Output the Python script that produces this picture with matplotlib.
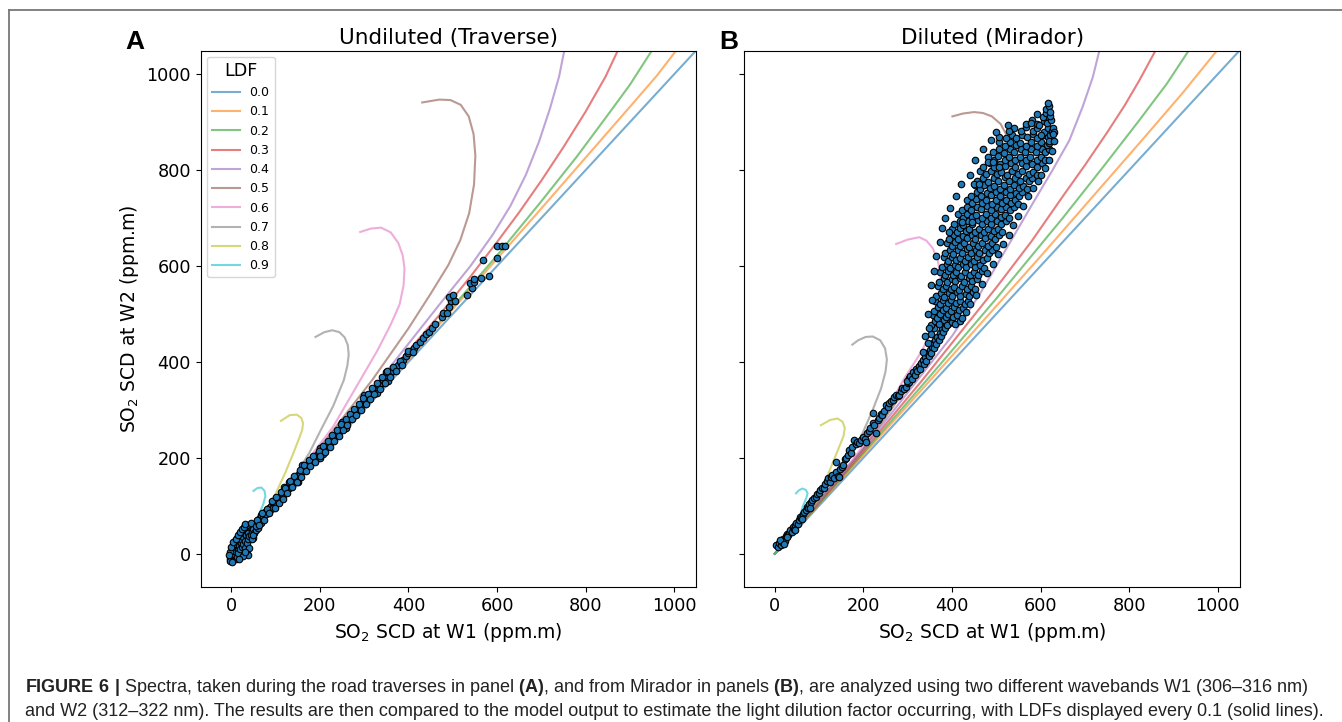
import matplotlib.pyplot as plt
from matplotlib.lines import Line2D

# LDF model curves, (W1, W2) pairs, one list per LDF
ldf_labels = ['0.0', '0.1', '0.2', '0.3', '0.4', '0.5', '0.6', '0.7', '0.8', '0.9']

a_curves = [
    [(0, 0), (1060, 1060)],
    [(0, 0), (400, 405), (700, 720), (800, 826), (900, 932), (960, 996), (1005, 1050), (1012, 1060)],
    [(0, 0), (300, 306), (500, 515), (600, 622), (700, 735), (780, 828), (850, 915), (900, 978),
     (950, 1050), (957, 1060)],
    [(0, 0), (200, 210), (350, 370), (472, 500), (540, 578), (600, 650), (650, 712), (700, 778),
     (750, 848), (800, 922), (845, 995), (873, 1050), (878, 1060)],
    [(0, 0), (200, 213), (335, 362), (472, 522), (540, 600), (590, 665), (630, 725), (665, 790),
     (695, 860), (720, 930), (740, 995), (752, 1050), (754, 1060)],
    [(0, 0), (200, 222), (318, 362), (400, 470), (450, 542), (490, 602), (517, 654), (537, 710),
     (548, 770), (551, 830), (547, 875), (536, 912), (518, 936), (495, 946), (470, 947), (450, 944), (431, 941)],
    [(0, 0), (150, 168), (230, 265), (291, 362), (330, 424), (360, 478), (380, 520), (389, 560),
     (391, 595), (387, 622), (377, 648), (360, 670), (338, 680), (315, 678), (291, 671)],
    [(0, 0), (70, 76), (120, 135), (150, 172), (176, 210), (201, 256), (230, 308), (254, 362),
     (262, 392), (265, 415), (263, 435), (256, 451), (244, 462), (228, 466), (210, 462), (190, 452)],
    [(0, 0), (50, 55), (80, 92), (100, 125), (120, 165), (138, 205), (152, 238), (160, 258),
     (162, 272), (158, 283), (148, 290), (132, 289), (112, 277)],
    [(0, 0), (30, 33), (50, 58), (63, 83), (72, 103), (77, 120), (75, 131), (68, 138), (59, 137), (50, 131)],
]

b_curves = [
    [(0, 0), (1060, 1060)],
    [(0, 0), (351, 362), (600, 620), (823, 856), (920, 960), (999, 1050), (1007, 1060)],
    [(0, 0), (200, 210), (343, 362), (500, 532), (650, 700), (740, 805), (823, 904), (885, 980),
     (935, 1050), (942, 1060)],
    [(0, 0), (200, 214), (333, 362), (500, 555), (580, 652), (650, 745), (700, 810), (750, 878),
     (790, 935), (823, 987), (860, 1050), (865, 1060)],
    [(0, 0), (200, 218), (322, 362), (401, 455), (462, 540), (522, 635), (582, 730), (627, 800),
     (665, 862), (695, 932), (718, 994), (733, 1050), (735, 1060)],
    [(0, 0), (200, 220), (310, 362), (400, 490), (460, 600), (500, 690), (522, 760), (533, 821),
     (530, 850), (522, 875), (510, 896), (490, 912), (470, 919), (450, 921), (425, 918), (401, 912)],
    [(0, 0), (150, 165), (230, 262), (290, 362), (330, 420), (352, 460), (367, 500), (374, 540),
     (374, 580), (368, 612), (356, 638), (342, 653), (326, 660), (300, 655), (274, 646)],
    [(0, 0), (100, 108), (150, 170), (198, 251), (221, 300), (240, 345), (250, 380), (253, 405),
     (249, 428), (238, 445), (221, 453), (205, 452), (188, 445), (175, 436)],
    [(0, 0), (60, 65), (100, 118), (123, 172), (145, 222), (155, 245), (158, 262), (153, 275),
     (142, 282), (125, 279), (104, 268)],
    [(0, 0), (30, 33), (50, 60), (63, 98), (71, 116), (74, 126), (70, 133), (62, 136), (54, 132), (48, 126)],
]

# measured SO2 SCDs (W1, W2), panel A: road traverses
a_points = [
    (-2, -12), (0, -8), (2, -14), (4, -10), (1, -3), (3, 2), (5, -5), (6, 4), (8, -2), (2, 8),
    (4, 12), (7, 10), (9, 6), (10, -12), (12, -6), (11, 14), (13, 18), (6, 20), (8, 26), (14, 8),
    (16, 2), (15, 24), (18, 16), (20, 10), (19, 30), (22, 22), (24, 14), (12, 32), (17, 36), (21, 40),
    (25, 28), (27, 20), (26, 34), (29, 44), (31, 26), (33, 38), (30, 12), (35, 22), (34, 50), (37, 30),
    (38, 44), (40, 36), (42, 56), (44, 40), (36, 60), (46, 48), (48, 32), (50, 52), (52, 44), (54, 62),
    (35, 0), (40, 12), (38, -2), (-4, 4), (-3, -16), (1, -18),
    (-5, -2), (0, 14), (3, 24), (10, 30), (14, 40), (20, 46), (24, 52), (28, 56), (32, 62), (44, 64),
    (46, 30), (50, 40), (55, 50), (60, 54), (26, -4), (18, -10), (30, 4),
    (56, 58), (60, 66), (63, 72), (66, 64), (68, 80), (72, 76), (75, 86), (78, 82), (82, 90), (85, 96),
    (88, 92), (90, 100), (94, 106), (97, 102), (100, 108), (104, 112), (107, 118), (110, 114), (114, 124),
    (117, 122), (120, 130), (124, 134), (127, 138), (130, 136), (133, 146), (136, 142), (140, 154),
    (143, 150), (146, 160), (150, 158), (153, 166), (156, 164), (160, 172), (163, 178), (166, 176),
    (170, 182), (173, 186), (176, 184), (180, 192), (183, 196), (186, 194), (190, 202), (193, 206),
    (196, 200), (200, 210), (203, 212), (206, 208), (210, 218), (213, 222), (216, 226), (220, 228),
    (223, 234), (226, 232), (230, 240), (233, 244), (237, 248), (240, 250), (243, 256), (247, 258),
    (250, 262), (254, 266), (258, 270), (262, 276), (266, 280), (270, 286), (275, 290), (280, 294),
    (285, 300), (290, 306), (295, 312), (300, 318), (305, 322), (310, 328), (315, 334), (320, 340),
    (326, 344), (332, 352), (337, 356), (343, 362), (348, 366), (353, 360), (358, 376), (364, 380),
    (370, 388), (376, 394), (382, 398), (388, 404), (394, 412), (400, 418), (406, 422), (412, 430),
    (418, 436), (425, 442), (432, 450), (440, 458), (446, 462), (452, 470), (460, 478),
    (118, 140), (130, 150), (160, 185), (200, 220), (250, 275), (300, 330), (350, 378),
    (95, 96), (150, 150), (200, 200), (260, 262), (330, 336),
    (58, 70), (62, 60), (70, 84), (74, 70), (80, 94), (84, 84), (92, 110), (98, 96), (102, 118),
    (108, 106), (112, 128), (116, 114), (122, 138), (126, 126), (132, 152), (138, 140), (142, 162),
    (148, 150), (155, 175), (158, 160), (165, 186), (168, 172), (175, 196), (178, 182), (185, 204),
    (190, 192), (197, 214), (200, 204), (208, 224), (212, 212), (218, 236), (222, 222), (228, 248),
    (232, 236), (238, 258), (242, 246), (248, 270), (252, 258), (258, 280), (262, 268), (268, 292),
    (272, 280), (278, 302), (282, 290), (288, 312), (292, 300), (298, 324), (303, 312), (308, 334),
    (313, 322), (318, 346), (323, 334), (330, 356), (335, 344), (340, 368), (346, 356), (352, 380),
    (358, 368), (366, 390), (372, 380), (380, 402), (386, 394), (398, 422), (410, 420),
    (476, 493), (478, 502), (487, 502), (491, 515), (496, 527), (504, 527), (491, 536), (501, 539),
    (532, 539), (544, 555), (540, 564), (547, 566), (547, 572), (564, 576), (581, 580), (568, 612),
    (600, 616), (600, 641), (611, 641), (617, 641),
]

# panel B: Mirador
b_points = [
    (3, 18), (8, 14), (10, 22), (14, 19), (17, 24), (19, 30), (22, 27), (25, 36), (27, 42), (30, 38),
    (33, 44), (35, 49), (38, 46), (40, 56), (43, 52), (46, 60), (48, 64), (52, 62), (55, 70), (57, 77),
    (60, 74), (63, 82), (66, 86), (70, 92), (72, 97), (75, 95), (78, 104), (82, 108), (85, 112), (88, 116),
    (92, 118), (96, 124), (100, 127), (103, 133), (107, 138), (110, 136), (114, 146), (118, 152),
    (121, 158), (124, 149), (127, 161), (130, 165), (134, 158), (138, 171), (142, 163), (145, 160),
    (148, 176), (152, 181), (155, 186), (12, 28), (20, 20), (28, 34), (45, 50), (62, 72), (80, 96),
    (138, 192), (158, 197), (161, 199), (165, 205), (168, 216), (172, 210), (175, 222), (179, 237),
    (183, 228), (186, 232), (190, 230), (194, 238), (198, 244), (203, 240), (206, 233), (209, 251),
    (212, 256), (216, 262), (221, 272), (221, 293), (225, 268), (229, 251), (232, 278), (236, 284),
    (240, 292), (243, 289), (247, 298), (251, 310), (255, 306), (258, 314), (262, 318), (266, 320),
    (270, 326), (273, 332), (277, 328), (281, 331), (285, 340), (288, 346), (292, 344), (296, 348),
    (300, 355), (304, 358), (302, 366), (298, 361),
    (306, 370), (310, 364), (312, 378), (316, 372), (318, 385), (322, 380), (325, 392), (328, 386),
    (330, 398), (334, 404), (336, 395), (339, 410), (342, 402), (344, 418), (347, 412), (350, 425),
    (352, 418), (355, 432), (357, 440), (360, 428), (362, 446), (365, 438), (367, 452), (370, 446),
    (372, 460), (375, 455), (377, 468), (380, 462), (382, 476), (385, 470), (387, 484), (390, 478),
    (392, 492), (395, 486), (398, 500), (400, 494), (335, 420), (345, 440), (352, 458), (360, 470),
    (353, 476), (361, 485), (370, 479), (381, 487), (388, 476), (399, 484), (406, 479), (417, 486),
    (356, 498), (367, 491), (374, 499), (386, 494), (392, 500), (403, 493), (412, 498), (422, 491),
    (359, 507), (368, 515), (379, 509), (387, 513), (398, 506), (405, 514), (416, 508), (424, 513), (432, 505),
    (362, 528), (373, 521), (380, 529), (391, 522), (398, 530), (410, 523), (417, 528), (429, 520), (436, 527),
    (365, 537), (376, 544), (383, 536), (394, 543), (401, 538), (412, 545), (419, 537), (431, 542),
    (439, 538), (447, 545),
    (368, 558), (379, 551), (386, 559), (397, 552), (404, 557), (415, 550), (423, 558), (435, 551),
    (442, 558), (452, 552),
    (371, 567), (382, 574), (389, 566), (400, 573), (407, 568), (418, 575), (426, 567), (438, 574),
    (446, 568), (456, 573),
    (374, 588), (385, 581), (392, 589), (403, 582), (410, 587), (421, 580), (429, 588), (441, 581),
    (449, 588), (459, 582), (467, 589),
    (377, 597), (388, 604), (395, 596), (406, 603), (413, 598), (424, 605), (432, 597), (444, 604),
    (452, 598), (464, 603), (472, 596),
    (381, 618), (392, 611), (399, 619), (410, 612), (417, 617), (429, 610), (437, 618), (449, 611),
    (457, 618), (469, 612), (479, 617),
    (384, 627), (395, 634), (403, 626), (414, 633), (422, 628), (434, 635), (442, 627), (454, 634),
    (462, 628), (475, 633), (484, 627), (491, 634),
    (388, 648), (399, 641), (407, 649), (419, 642), (427, 647), (439, 640), (447, 648), (459, 641),
    (468, 648), (481, 642), (490, 647), (499, 640),
    (393, 657), (405, 664), (413, 656), (425, 663), (433, 658), (445, 665), (453, 657), (466, 664),
    (475, 658), (488, 663), (497, 657), (507, 664),
    (399, 678), (411, 671), (419, 679), (431, 672), (439, 677), (451, 670), (460, 678), (473, 671),
    (482, 678), (495, 672), (504, 677), (514, 670),
    (405, 687), (417, 694), (425, 686), (437, 693), (445, 688), (458, 695), (467, 687), (480, 694),
    (489, 688), (502, 693), (511, 687), (521, 694),
    (413, 708), (425, 701), (433, 709), (445, 702), (454, 707), (467, 700), (476, 708), (489, 701),
    (498, 708), (511, 702), (520, 707), (529, 700),
    (423, 717), (435, 724), (444, 716), (457, 723), (466, 718), (479, 725), (488, 717), (501, 724),
    (510, 718), (523, 723), (531, 717), (539, 724),
    (433, 738), (446, 731), (455, 739), (468, 732), (477, 737), (490, 730), (499, 738), (512, 731),
    (521, 738), (534, 732), (542, 737), (549, 730),
    (443, 747), (456, 754), (465, 746), (478, 753), (487, 748), (500, 755), (509, 747), (522, 754),
    (531, 748), (544, 753), (552, 747), (559, 754),
    (451, 768), (464, 761), (473, 769), (486, 762), (495, 767), (508, 760), (517, 768), (530, 761),
    (539, 768), (552, 762), (560, 767), (569, 760),
    (457, 777), (471, 784), (481, 776), (495, 783), (505, 778), (519, 785), (529, 777), (543, 784),
    (553, 778), (567, 783), (575, 777), (581, 784),
    (463, 798), (477, 791), (487, 799), (501, 792), (511, 797), (525, 790), (535, 798), (549, 791),
    (559, 798), (573, 792), (583, 797), (593, 790),
    (471, 807), (485, 814), (495, 806), (509, 813), (519, 808), (533, 815), (543, 807), (557, 814),
    (567, 808), (581, 813), (591, 807), (603, 814),
    (481, 828), (495, 821), (505, 829), (519, 822), (529, 827), (543, 820), (553, 828), (567, 821),
    (577, 828), (591, 822), (600, 827), (611, 820),
    (493, 837), (507, 844), (517, 836), (531, 843), (541, 838), (555, 845), (565, 837), (579, 844),
    (589, 838), (603, 843), (611, 837), (618, 844),
    (506, 858), (520, 851), (530, 859), (544, 852), (554, 857), (568, 850), (578, 858), (592, 851),
    (602, 858), (614, 852), (620, 857),
    (521, 867), (535, 874), (545, 866), (559, 873), (569, 868), (583, 875), (593, 867), (607, 874),
    (617, 868), (622, 873),
    (541, 888), (556, 881), (567, 889), (582, 882), (593, 887), (608, 880), (617, 888), (625, 882),
    (566, 897), (581, 904), (592, 896), (607, 903), (615, 898), (623, 904),
    (591, 918), (605, 911), (613, 919), (621, 912),
    (612, 928), (620, 934), (616, 939), (621, 922), (627, 887), (631, 880),
    (394, 671), (423, 692), (446, 692), (450, 772), (461, 772), (481, 817), (492, 817), (507, 807),
    (507, 869), (529, 882), (526, 894), (578, 898), (597, 894), (602, 874), (618, 861),
    (340, 455), (348, 470), (345, 500), (355, 530), (352, 560), (360, 590), (365, 620), (372, 650),
    (378, 680), (385, 700), (395, 720), (410, 745), (420, 770), (440, 790), (452, 820), (470, 845),
    (488, 862), (500, 880),
    (440, 520), (455, 540), (468, 562), (480, 585), (492, 605), (503, 625), (515, 645), (528, 665),
    (538, 685), (550, 705), (560, 725), (572, 745), (583, 762), (595, 778), (602, 790), (610, 805),
    (618, 822), (625, 840), (630, 860), (628, 875),
]

panel_titles = ['Undiluted (Traverse)', 'Diluted (Mirador)']
panel_letters = ['A', 'B']
ticks = [0, 200, 400, 600, 800, 1000]

caption_1 = (r'$\bf{FIGURE\ 6\ |}$ Spectra, taken during the road traverses in panel $\bf{(A)}$, '
             r'and from Mirador in panels $\bf{(B)}$, are analyzed using two different wavebands W1 (306–316 nm)')
caption_2 = ('and W2 (312–322 nm). The results are then compared to the model output to estimate '
             'the light dilution factor occurring, with LDFs displayed every 0.1 (solid lines).')


def main():
    plt.rcParams['mathtext.fontset'] = 'custom'
    plt.rcParams['mathtext.rm'] = 'DejaVu Sans'
    plt.rcParams['mathtext.it'] = 'DejaVu Sans:italic'
    plt.rcParams['mathtext.bf'] = 'Liberation Sans:bold'

    fig = plt.figure(figsize=(13.42, 7.22), dpi=100)
    ax_a = fig.add_axes([0.1496, 0.1866, 0.3693, 0.7432])
    ax_b = fig.add_axes([0.5546, 0.1866, 0.3693, 0.7432], sharey=ax_a)
    colors = plt.get_cmap('tab10').colors

    for ax, curves, pts, title in zip([ax_a, ax_b], [a_curves, b_curves], [a_points, b_points], panel_titles):
        for i, curve in enumerate(curves):
            ax.plot([p[0] for p in curve], [p[1] for p in curve], color=colors[i], alpha=0.6,
                    lw=1.5, label=ldf_labels[i])
        ax.scatter([p[0] for p in pts], [p[1] for p in pts], s=22, c='#1f77b4', edgecolors='k',
                   linewidths=0.8, zorder=3)
        ax.set_xlim(-69, 1050)
        ax.set_ylim(-70, 1049)
        ax.set_xticks(ticks)
        ax.set_yticks(ticks)
        ax.tick_params(labelsize=12.7)
        ax.set_title(title, fontsize=15.5, pad=5)
        ax.set_xlabel('SO$_2$ SCD at W1 (ppm.m)', fontsize=13.5)

    ax_a.set_ylabel('SO$_2$ SCD at W2 (ppm.m)', fontsize=13.5)
    ax_b.tick_params(labelleft=False)
    ax_a.legend(title='LDF', loc='upper left', fontsize=9, title_fontsize=12.6, handlelength=2.2,
                labelspacing=0.5)

    for letter, px in zip(panel_letters, [135, 729]):
        fig.text(px / 1342, 1 - 49 / 722, letter, fontsize=19, fontweight='bold',
                 family='Liberation Sans', ha='center', va='baseline')

    # page frame and caption
    fig.add_artist(Line2D([0.0069, 1.0], [0.9855, 0.9855], color='#777777', lw=1.3))
    fig.add_artist(Line2D([0.0069, 0.0069], [0.0, 0.9855], color='#777777', lw=1.3))
    fig.text(25 / 1342, 1 - 688 / 722, caption_1, fontsize=13, family='Liberation Sans',
             color='#222222', va='center')
    fig.text(25 / 1342, 1 - 711 / 722, caption_2, fontsize=13, family='Liberation Sans',
             color='#222222', va='center')

    fig.savefig('out.png', dpi=100)


if __name__ == '__main__':
    main()
